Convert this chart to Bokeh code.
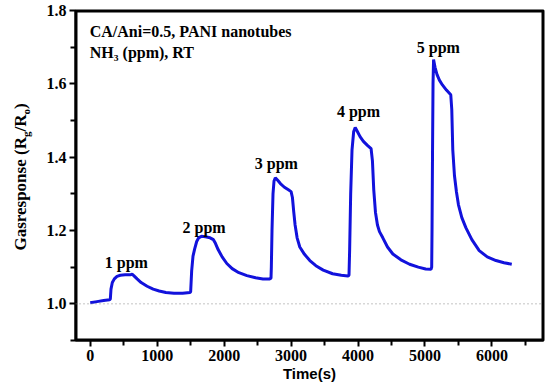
from bokeh.plotting import figure
from bokeh.models import Span, Label, FixedTicker, Range1d, ColumnDataSource, Div
from bokeh.layouts import row
from bokeh.embed import file_html
from bokeh.resources import INLINE

# ---- data ----
time_s = [0, 100, 200, 290, 300, 310, 330, 360, 400, 450, 520, 600, 625, 650, 700, 760, 850, 940, 1030, 1130, 1250, 1380, 1490,
          1500, 1515, 1535, 1560, 1590, 1620, 1660, 1720, 1790, 1840, 1870, 1910, 1970, 2040, 2120, 2220, 2340, 2470, 2580, 2680, 2700,
          2705, 2715, 2730, 2745, 2765, 2800, 2840, 2900, 2960, 3000, 3020, 3040, 3060, 3090, 3130, 3200, 3280, 3370, 3480, 3620, 3750, 3850, 3865,
          3875, 3890, 3910, 3935, 3958, 3990, 4030, 4080, 4140, 4195, 4215, 4235, 4260, 4290, 4320, 4370, 4440, 4520, 4640, 4770, 4900, 5010, 5090, 5100,
          5105, 5112, 5120, 5128, 5150, 5180, 5215, 5260, 5320, 5385, 5400, 5415, 5440, 5470, 5500, 5550, 5610, 5700, 5810, 5930, 6060, 6180, 6296]
response = [1.003, 1.006, 1.009, 1.011, 1.013, 1.040, 1.058, 1.068, 1.075, 1.078, 1.079, 1.079, 1.081, 1.077, 1.068, 1.058, 1.048, 1.040, 1.035, 1.031, 1.029, 1.029, 1.031,
            1.033, 1.090, 1.130, 1.150, 1.170, 1.180, 1.184, 1.183, 1.180, 1.175, 1.165, 1.148, 1.128, 1.110, 1.096, 1.085, 1.077, 1.071, 1.068, 1.068, 1.070,
            1.100, 1.200, 1.300, 1.335, 1.344, 1.337, 1.328, 1.318, 1.311, 1.306, 1.290, 1.250, 1.215, 1.180, 1.155, 1.135, 1.118, 1.104, 1.092, 1.082, 1.078, 1.076, 1.078,
            1.150, 1.300, 1.420, 1.470, 1.481, 1.470, 1.456, 1.443, 1.432, 1.423, 1.390, 1.310, 1.250, 1.215, 1.197, 1.180, 1.155, 1.136, 1.120, 1.108, 1.100, 1.095, 1.094, 1.100,
            1.200, 1.400, 1.600, 1.666, 1.645, 1.625, 1.610, 1.597, 1.583, 1.570, 1.530, 1.420, 1.350, 1.305, 1.270, 1.235, 1.208, 1.175, 1.145, 1.128, 1.118, 1.112, 1.108]

conc_labels = ["1 ppm", "2 ppm", "3 ppm", "4 ppm", "5 ppm"]
label_t = [540, 1700, 2779, 4007, 5199]
label_v = [1.112, 1.209, 1.383, 1.524, 1.700]

x_ticks = [0, 1000, 2000, 3000, 4000, 5000, 6000]
x_minor = [500, 1500, 2500, 3500, 4500, 5500, 6500]
y_ticks = [1.0, 1.2, 1.4, 1.6, 1.8]
y_minor = [0.9, 1.1, 1.3, 1.5, 1.7]

X_START, X_END = -220, 6770
Y_START, Y_END = 0.9, 1.8

SERIF = "Liberation Serif"
SANS = "Liberation Sans"

DIV_W = 26
W, H = 514, 388
BL, BR, BT, BB = 39, 7, 10, 48

p = figure(width=W, height=H, output_backend="svg", toolbar_location=None,
           x_range=Range1d(X_START, X_END), y_range=Range1d(Y_START, Y_END),
           min_border_left=BL, min_border_right=BR, min_border_top=BT, min_border_bottom=BB)
p.background_fill_color = "white"
p.border_fill_color = "white"
p.outline_line_color = "black"
p.outline_line_width = 2
p.xgrid.visible = False
p.ygrid.visible = False

for ax in (p.xaxis[0], p.yaxis[0]):
    ax.axis_line_width = 2
    ax.axis_line_color = "black"
    ax.major_tick_line_width = 2
    ax.minor_tick_line_width = 2
    ax.major_tick_line_color = "black"
    ax.minor_tick_line_color = "black"
    ax.major_tick_in = 0
    ax.major_tick_out = 6
    ax.minor_tick_in = 0
    ax.minor_tick_out = 5
    ax.major_label_text_font = SERIF
    ax.major_label_text_font_style = "bold"
    ax.major_label_text_font_size = "16px"
    ax.major_label_text_color = "black"
    ax.major_label_standoff = 3

p.xaxis[0].ticker = FixedTicker(ticks=x_ticks, minor_ticks=x_minor)
p.yaxis[0].ticker = FixedTicker(ticks=y_ticks, minor_ticks=y_minor)
p.yaxis[0].major_label_overrides = {v: f"{v:.1f}" for v in y_ticks}

p.xaxis[0].axis_label = "Time(s)"
p.xaxis[0].axis_label_text_font = SANS
p.xaxis[0].axis_label_text_font_style = "bold"
p.xaxis[0].axis_label_text_font_size = "15px"
p.xaxis[0].axis_label_text_color = "black"
p.xaxis[0].axis_label_standoff = 1

# frame border: an unfilled quad on the range limits (half of its stroke lies inside the frame)
p.quad(left=[X_START], right=[X_END], bottom=[Y_START], top=[Y_END],
       fill_alpha=0, line_color="black", line_width=4)

p.add_layout(Span(location=1.0, dimension="width", line_color="#888888", line_width=1, line_dash="1 3"))

src = ColumnDataSource(data=dict(t=time_s, r=response))
p.line("t", "r", source=src, line_color="#1212dc", line_width=3)

for txt, tx, ty in zip(conc_labels, label_t, label_v):
    p.add_layout(Label(x=tx, y=ty, text=txt, text_align="center", text_baseline="alphabetic",
                       text_font=SERIF, text_font_style="bold", text_font_size="16px", text_color="black"))

p.add_layout(Label(x=-7, y=1.742, text="CA/Ani=0.5, PANI nanotubes", text_align="left", text_baseline="alphabetic",
                   text_font=SERIF, text_font_style="bold", text_font_size="16px", text_color="black"))
p.add_layout(Label(x=-7, y=1.685, text="NH\u2083 (ppm), RT", text_align="left", text_baseline="alphabetic",
                   text_font=SERIF, text_font_style="bold", text_font_size="16px", text_color="black"))

# y axis title with real subscripts (HTML), rotated
ylabel_html = ('<div style="position:absolute; left:17px; top:172px; transform:translate(-50%,-50%) rotate(-90deg); '
               'white-space:nowrap; font-family:\'Liberation Serif\'; font-weight:bold; font-size:17px; color:black; line-height:1;">'
               'Gasresponse (R<sub style="font-size:11px">g</sub>/R<sub style="font-size:11px">o</sub>)</div>')
ydiv = Div(text=ylabel_html, width=DIV_W, height=H, styles={"position": "relative", "overflow": "visible"})

layout = row(ydiv, p, spacing=0)

open("out.html", "w").write(file_html(layout, INLINE))
